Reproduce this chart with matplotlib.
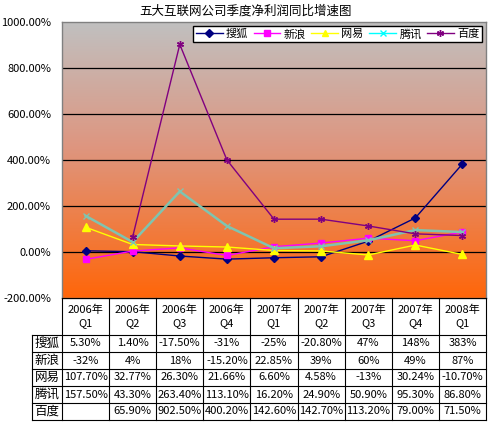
import numpy as np
import matplotlib.pyplot as plt
from matplotlib.lines import Line2D

plt.rcParams['font.family'] = ['Noto Sans CJK SC', 'DejaVu Sans']

quarters = ["2006年\nQ1", "2006年\nQ2", "2006年\nQ3", "2006年\nQ4",
            "2007年\nQ1", "2007年\nQ2", "2007年\nQ3", "2007年\nQ4", "2008年\nQ1"]
names = ["搜狐", "新浪", "网易", "腾讯", "百度"]

sohu = [5.3, 1.4, -17.5, -31, -25, -20.8, 47, 148, 383]
sina = [-32, 4, 18, -15.2, 22.85, 39, 60, 49, 87]
netease = [107.7, 32.77, 26.3, 21.66, 6.6, 4.58, -13, 30.24, -10.7]
tencent = [157.5, 43.3, 263.4, 113.1, 16.2, 24.9, 50.9, 95.3, 86.8]
baidu = [np.nan, 65.9, 902.5, 400.2, 142.6, 142.7, 113.2, 79.0, 71.5]

sohu_txt = ["5.30%", "1.40%", "-17.50%", "-31%", "-25%", "-20.80%", "47%", "148%", "383%"]
sina_txt = ["-32%", "4%", "18%", "-15.20%", "22.85%", "39%", "60%", "49%", "87%"]
netease_txt = ["107.70%", "32.77%", "26.30%", "21.66%", "6.60%", "4.58%", "-13%", "30.24%", "-10.70%"]
tencent_txt = ["157.50%", "43.30%", "263.40%", "113.10%", "16.20%", "24.90%", "50.90%", "95.30%", "86.80%"]
baidu_txt = ["", "65.90%", "902.50%", "400.20%", "142.60%", "142.70%", "113.20%", "79.00%", "71.50%"]

W, H = 491, 425
fig = plt.figure(figsize=(W / 100, H / 100), dpi=100)
ax = fig.add_axes([62 / W, (H - 298) / H, 424 / W, 276 / H])

# gray -> orange gradient background
top = np.array([192, 192, 192]) / 255
mid = np.array([222, 150, 128]) / 255
bot = np.array([255, 102, 10]) / 255
tt = np.linspace(0, 1, 256)[:, None]
grad = np.where(tt < 0.45, top + (mid - top) * (tt / 0.45), mid + (bot - mid) * ((tt - 0.45) / 0.55))
ax.imshow(grad[:, None, :], extent=[-0.5, 8.5, -200, 1000], aspect='auto', zorder=0)

x = np.arange(9)
ax.plot(x, sohu, color='#000080', marker='D', ms=4, lw=1, zorder=3)
ax.plot(x, sina, color='#ff00ff', marker='s', ms=5, lw=1, zorder=3)
ax.plot(x, netease, color='#ffff00', marker='^', ms=6, lw=1, zorder=3)
ax.plot(x, tencent, color='#7fc4b0', marker='x', ms=4, lw=1.8, zorder=3)
ax.plot(x, baidu, color='#800080', marker=(6, 2, 0), ms=5, lw=1, zorder=3)

ax.set_xlim(-0.5, 8.5)
ax.set_ylim(-200, 1000)
yt = np.arange(-200, 1001, 200)
ax.set_yticks(yt)
ax.set_yticklabels(["%.2f%%" % v for v in yt], fontsize=8)
ax.tick_params(axis='y', length=0, pad=8)
ax.set_xticks([])
for v in range(0, 1000, 200):
    ax.axhline(v, color='black', lw=0.9, zorder=1)
for s in ax.spines.values():
    s.set_color('#808080')
    s.set_linewidth(1)

handles = [
    Line2D([], [], color='#000080', marker='D', ms=4, lw=1),
    Line2D([], [], color='#ff00ff', marker='s', ms=5, lw=1),
    Line2D([], [], color='#ffff00', marker='^', ms=5, lw=1),
    Line2D([], [], color='#00ffff', marker='x', ms=4, lw=1),
    Line2D([], [], color='#800080', marker=(6, 2, 0), ms=5, lw=1),
]
leg = ax.legend(handles, names, loc='upper right', ncol=5, fontsize=8,
                frameon=True, fancybox=False, edgecolor='black',
                borderaxespad=0.35, columnspacing=0.5, handlelength=2.4,
                handletextpad=0.3, borderpad=0.25)
leg.get_frame().set_linewidth(1)
leg.get_frame().set_alpha(1)

fig.text(0.5, 1 - 11 / H, "五大互联网公司季度净利润同比增速图", ha='center', va='center', fontsize=9)

# data table drawn in pixel coordinates underneath the plot
tax = fig.add_axes([0, 0, 1, 1], facecolor='none')
tax.set_xlim(0, W)
tax.set_ylim(H, 0)
tax.axis('off')

x0, x1, lab0 = 62, 486, 32
cw = (x1 - x0) / len(quarters)
hy0, hy1 = 298, 335
rh = 17
cells = [sohu_txt, sina_txt, netease_txt, tencent_txt, baidu_txt]
ybot = hy1 + rh * len(names)
lk = dict(color='black', lw=0.8)

# header
tax.plot([x0, x1], [hy0, hy0], **lk)
for j in range(len(quarters) + 1):
    tax.plot([x0 + j * cw] * 2, [hy0, ybot], **lk)
for j, q in enumerate(quarters):
    tax.text(x0 + (j + 0.5) * cw, (hy0 + hy1) / 2, q, ha='center', va='center',
             fontsize=8, linespacing=1.3)
# body
tax.plot([lab0, lab0], [hy1, ybot], **lk)
for i in range(len(names) + 1):
    tax.plot([lab0, x1], [hy1 + i * rh] * 2, **lk)
for i, (nm, row) in enumerate(zip(names, cells)):
    yc = hy1 + (i + 0.5) * rh
    tax.text((lab0 + x0) / 2, yc, nm, ha='center', va='center', fontsize=9)
    for j, t in enumerate(row):
        tax.text(x0 + (j + 0.5) * cw, yc, t, ha='center', va='center', fontsize=8)

fig.savefig("out.png", dpi=100)
